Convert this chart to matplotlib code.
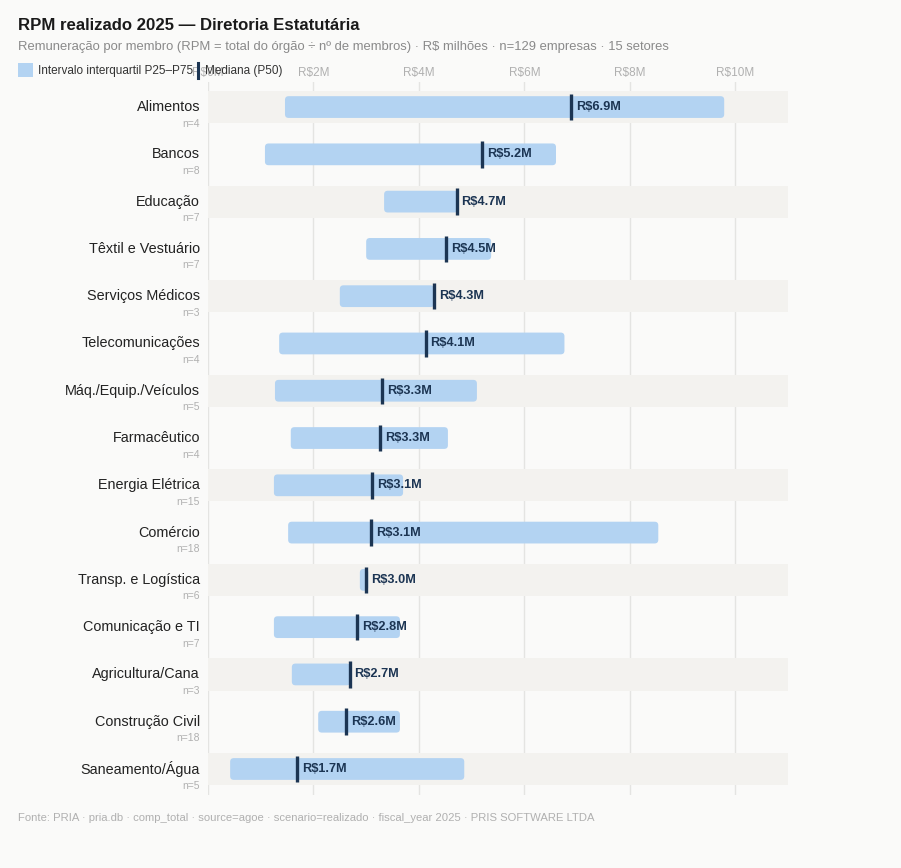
import matplotlib
matplotlib.use("Agg")
import matplotlib.pyplot as plt
from matplotlib.patches import FancyBboxPatch, Rectangle
from matplotlib.lines import Line2D
from matplotlib.ticker import FuncFormatter

plt.rcParams['font.family'] = ['Liberation Sans', 'DejaVu Sans']

# ---------------- data ----------------
sectors = [
    'Alimentos', 'Bancos', 'Educação', 'Têxtil e Vestuário', 'Serviços Médicos',
    'Telecomunicações', 'Máq./Equip./Veículos', 'Farmacêutico', 'Energia Elétrica',
    'Comércio', 'Transp. e Logística', 'Comunicação e TI', 'Agricultura/Cana',
    'Construção Civil', 'Saneamento/Água'
]
n_companies = [4, 8, 7, 7, 3, 4, 5, 4, 15, 18, 6, 7, 3, 18, 5]
p25 = [1.46, 1.08, 3.34, 3.00, 2.50, 1.35, 1.27, 1.57, 1.25, 1.52, 2.88, 1.25, 1.59, 2.09, 0.42]
p50 = [6.89, 5.20, 4.72, 4.52, 4.29, 4.13, 3.30, 3.26, 3.11, 3.09, 3.00, 2.83, 2.69, 2.62, 1.69]
p75 = [9.79, 6.60, 4.74, 5.37, 4.29, 6.76, 5.10, 4.55, 3.70, 8.54, 3.04, 3.64, 2.70, 3.64, 4.86]
x_ticks = [0, 2, 4, 6, 8, 10]

# ---------------- style ----------------
BG = '#fafaf9'
BAND = '#f3f2ef'
BAR = '#b3d3f2'
MED = '#1c3553'
GRID = '#e4e4e2'
TXT = '#222222'
GRAY = '#8a8a8a'
LIGHT = '#b0b0b0'

W, H = 901, 868
fig = plt.figure(figsize=(W / 100, H / 100), dpi=100, facecolor=BG)
ax = fig.add_axes([208 / W, 1 - 795 / H, (788 - 208) / W, (795 - 82) / H])
ax.set_facecolor(BG)

n = len(sectors)
ax.set_xlim(0, 11)
ax.set_ylim(n - 0.45, -0.53)

# grid
for t in x_ticks:
    ax.axvline(t, color=GRID, lw=1, zorder=0)

# alternating bands
for i in range(n):
    if i % 2 == 0:
        ax.add_patch(Rectangle((0, i - 0.34), 11, 0.68, facecolor=BAND,
                               edgecolor='none', zorder=1))

bar_h = 0.46
for i in range(n):
    w = max(p75[i] - p25[i], 0.05)
    ax.add_patch(FancyBboxPatch((p25[i], i - bar_h / 2), w, bar_h,
                                boxstyle='round,pad=0,rounding_size=0.07',
                                mutation_aspect=1.1,
                                facecolor=BAR, edgecolor='none', zorder=2))
    ax.plot([p50[i], p50[i]], [i - 0.28, i + 0.28], color=MED, lw=2.4,
            solid_capstyle='butt', zorder=3)
    ax.text(p50[i] + 0.09, i, f'R${p50[i]:.1f}M', ha='left', va='center',
            fontsize=9.2, fontweight='bold', color=MED, zorder=4)
    # category labels
    ax.text(-0.15, i, sectors[i], ha='right', va='center', fontsize=10.4,
            color=TXT, clip_on=False)
    ax.text(-0.15, i + 0.35, f'n={n_companies[i]}', ha='right', va='center',
            fontsize=7.5, color=LIGHT, clip_on=False)

ax.xaxis.tick_top()
ax.set_xticks(x_ticks)
ax.xaxis.set_major_formatter(FuncFormatter(lambda v, p: f'R${v:.0f}M'))
ax.tick_params(axis='x', length=0, labelsize=8.5, labelcolor=LIGHT, pad=2)
ax.set_yticks([])
for s in ax.spines.values():
    s.set_visible(False)

# ---------------- titles ----------------
fig.text(18 / W, 1 - 25 / H, 'RPM realizado 2025 — Diretoria Estatutária',
         fontsize=12.1, fontweight='bold', color='#1a1a1a', va='center')
fig.text(18 / W, 1 - 47 / H,
         'Remuneração por membro (RPM = total do órgão ÷ nº de membros) · R$ milhões · '
         'n=129 empresas · 15 setores',
         fontsize=9.35, color=GRAY, va='center')

# legend (manual)
fig.patches.append(Rectangle((18 / W, 1 - 77 / H), 15 / W, 14 / H,
                             transform=fig.transFigure, facecolor=BAR,
                             edgecolor='none'))
fig.text(38 / W, 1 - 71 / H, 'Intervalo interquartil P25–P75', fontsize=8.5,
         color='#333333', va='center')
fig.lines.append(Line2D([198 / W, 198 / W], [1 - 78 / H, 1 - 63 / H],
                        transform=fig.transFigure, color=MED, lw=2.2))
fig.text(205 / W, 1 - 71 / H, 'Mediana (P50)', fontsize=8.5,
         color='#333333', va='center')

fig.text(18 / W, 1 - 818 / H,
         'Fonte: PRIA · pria.db · comp_total · source=agoe · scenario=realizado · '
         'fiscal_year 2025 · PRIS SOFTWARE LTDA',
         fontsize=8.1, color=LIGHT, va='center')

fig.savefig('out.png', dpi=100, facecolor=BG)
